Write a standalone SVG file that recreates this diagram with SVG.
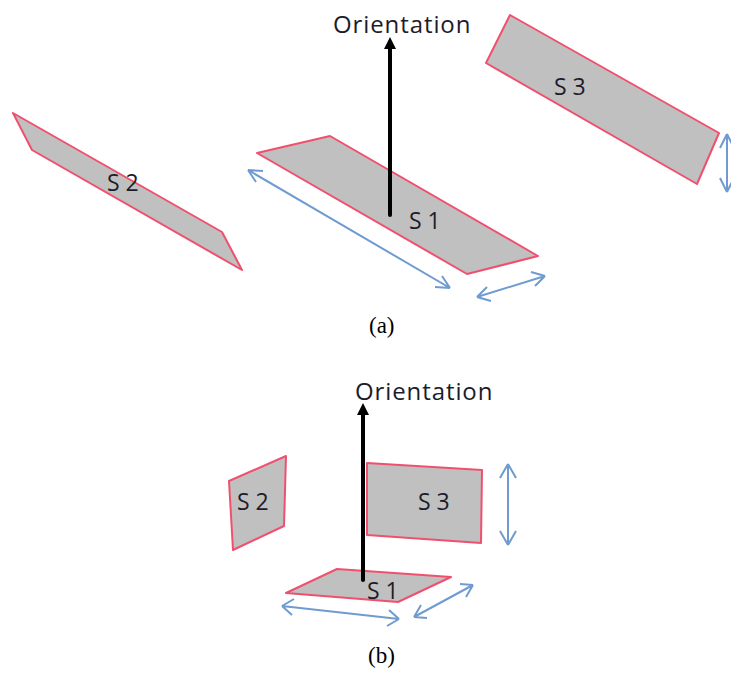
<svg xmlns="http://www.w3.org/2000/svg" width="731" height="673" viewBox="0 0 731 673">
<style>
.p{fill:#c0c0c0;stroke:#f0506e;stroke-width:2;stroke-linejoin:round}
.b{fill:none;stroke:#6f9bd0;stroke-width:2}
.o{fill:none;stroke:#000;stroke-width:4;stroke-linecap:round}
.l{font-family:"Open Sans","Noto Sans",sans-serif;font-size:23px;fill:#1c1c2a}
.t{font-size:24px;letter-spacing:.9px}
.c{font-family:"Liberation Serif",serif;font-size:23px;fill:#000}
</style>
<rect width="731" height="673" fill="#fff"/>
<g id="s1a"><polygon class="p" points="257,153 330,136 538,256 467,274"/><text class="l" x="409" y="229">S 1</text></g>
<g id="s2a"><polygon class="p" points="13,113 222,232 242,270 32,150"/><text class="l" x="107" y="191">S 2</text></g>
<g id="s3a"><polygon class="p" points="510,15 719,133 697,184 486,63"/><text class="l" x="554" y="95">S 3</text></g>
<g id="s1b"><polygon class="p" points="286,593 337,569 451,577 398,602"/><text class="l" x="367" y="599">S 1</text></g>
<g id="s2b"><polygon class="p" points="229,481 286,456 284,526 233,550"/><text class="l" x="237" y="510">S 2</text></g>
<g id="s3b"><polygon class="p" points="367,463 482,470 481,543 367,535"/><text class="l" x="418" y="510">S 3</text></g>
<g id="connectors">
<path class="o" d="M390 215V48"/><path d="M390 37l-6 12h12z" fill="#000"/>
<path class="o" d="M363 580V412"/><path d="M363 403l-6 12h12z" fill="#000"/>
<path class="b" d="M248 170L450 288M248 170l15 1M248 170l8 12M450 288l-15-1M450 288l-8-12"/>
<path class="b" d="M477 297L545 276M477 297l14 4M477 297l10-10M545 276l-14-4M545 276l-10 10"/>
<path class="b" d="M727 134V192M727 134l-7 14M727 134l7 14M727 192l-7-14M727 192l7-14"/>
<path class="b" d="M282 606L399 619M282 606l12-7M282 606l10 9M399 619l-12 7M399 619l-10-9"/>
<path class="b" d="M414 617L473 585M414 617l13 1M414 617l7-12M473 585l-13-1M473 585l-7 12"/>
<path class="b" d="M508 464V545M508 464l-8 14M508 464l8 14M508 545l-8-14M508 545l8-14"/>
</g>
<text class="l t" x="333" y="33" id="orient-a">Orientation</text>
<text class="l t" x="355" y="400" id="orient-b">Orientation</text>
<text class="c" x="369" y="333">(a)</text>
<text class="c" x="368" y="663">(b)</text>
</svg>
